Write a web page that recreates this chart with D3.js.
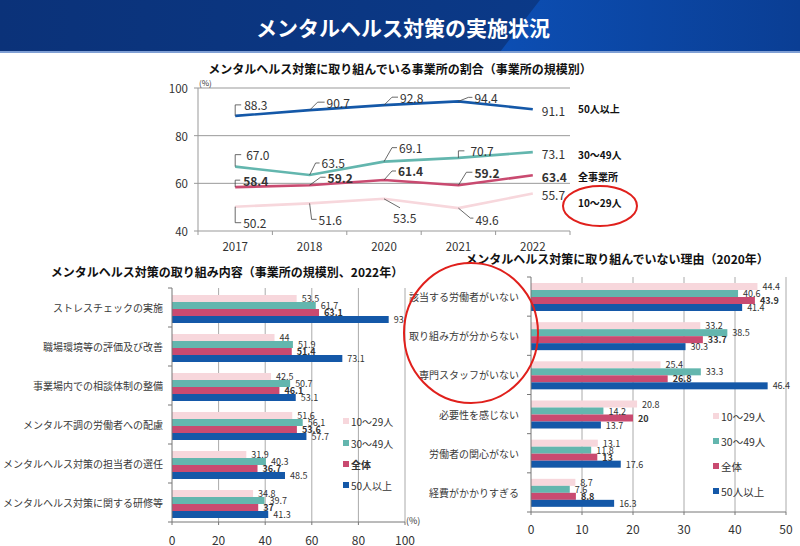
<!DOCTYPE html>
<html>
<head>
<meta charset="utf-8">
<script src="https://cdn.jsdelivr.net/npm/d3@7"></script>
<style>
  body { margin: 0; background: #fff; }
  svg { display: block; font-family: "Noto Sans CJK JP", "Noto Sans", sans-serif; }
</style>
</head>
<body>
<div id="chart"></div>
<script>
// line chart: share of workplaces doing mental health measures
var years = ["2017", "2018", "2020", "2021", "2022"];
var lineNames = ["50人以上", "30～49人", "全事業所", "10～29人"];
var rateOver50 = [88.3, 90.7, 92.8, 94.4, 91.1];
var rate30to49 = [67.0, 63.5, 69.1, 70.7, 73.1];
var rateAll = [58.4, 59.2, 61.4, 59.2, 63.4];
var rate10to29 = [50.2, 51.6, 53.5, 49.6, 55.7];
var yTicks = [40, 60, 80, 100];

// bar charts
var sizeGroups = ["10～29人", "30～49人", "全体", "50人以上"];

var effortItems = ["ストレスチェックの実施", "職場環境等の評価及び改善", "事業場内での相談体制の整備",
  "メンタル不調の労働者への配慮", "メンタルヘルス対策の担当者の選任", "メンタルヘルス対策に関する研修等"];
var effort10to29 = [53.5, 44, 42.5, 51.6, 31.9, 34.8];
var effort30to49 = [61.7, 51.9, 50.7, 56.1, 40.3, 39.7];
var effortAll = [63.1, 51.4, 46.1, 53.6, 36.7, 37];
var effortOver50 = [93, 73.1, 53.1, 57.7, 48.5, 41.3];

var reasonItems = ["該当する労働者がいない", "取り組み方が分からない", "専門スタッフがいない",
  "必要性を感じない", "労働者の関心がない", "経費がかかりすぎる"];
var reason10to29 = [44.4, 33.2, 25.4, 20.8, 13.1, 8.7];
var reason30to49 = [40.6, 38.5, 33.3, 14.2, 11.8, 7.6];
var reasonAll = [43.9, 33.7, 26.8, 20, 13, 8.8];
var reasonOver50 = [41.4, 30.3, 46.4, 13.7, 17.6, 16.3];

var colors = { pink: "#f7d7dc", teal: "#63b6ae", red: "#c94a70", blue: "#1458a8" };
var textColor = "#333";

var svg = d3.select("#chart").append("svg")
  .attr("width", 800).attr("height", 546);

svg.append("rect").attr("width", 800).attr("height", 546).attr("fill", "#fff");

// ---- header band
var defs = svg.append("defs");
var g1 = defs.append("linearGradient").attr("id", "hdrL");
g1.append("stop").attr("offset", "0%").attr("stop-color", "#0b3279");
g1.append("stop").attr("offset", "100%").attr("stop-color", "#0b3d8f");
var g2 = defs.append("linearGradient").attr("id", "hdrR");
g2.append("stop").attr("offset", "0%").attr("stop-color", "#0c4eb3");
g2.append("stop").attr("offset", "100%").attr("stop-color", "#0a3e94");

svg.append("rect").attr("x", 0).attr("y", 0).attr("width", 800).attr("height", 52).attr("fill", "url(#hdrL)");
svg.append("polygon").attr("points", "540,0 800,0 800,52 500,52").attr("fill", "url(#hdrR)");
svg.append("rect").attr("x", 0).attr("y", 51).attr("width", 800).attr("height", 2).attr("fill", "#7f9fd4");
svg.append("text")
  .attr("x", 403).attr("y", 27)
  .attr("text-anchor", "middle").attr("dominant-baseline", "central")
  .attr("fill", "#fff").attr("font-size", 21).attr("font-weight", "bold")
  .text("メンタルヘルス対策の実施状況");

// ---- line chart
var lx = d3.scaleBand().domain(years).range([198, 570]);
var ly = d3.scaleLinear().domain([40, 100]).range([231, 88]);

svg.append("text").attr("x", 400).attr("y", 68)
  .attr("text-anchor", "middle").attr("dominant-baseline", "central")
  .attr("font-size", 12).attr("font-weight", "bold").attr("fill", "#111")
  .text("メンタルヘルス対策に取り組んでいる事業所の割合（事業所の規模別）");

var lineG = svg.append("g");
lineG.selectAll(".grid").data(yTicks).enter().append("line")
  .attr("x1", 194).attr("x2", 570)
  .attr("y1", function (d) { return ly(d); }).attr("y2", function (d) { return ly(d); })
  .attr("stroke", "#999").attr("stroke-width", 1);
lineG.append("line").attr("x1", 198).attr("x2", 198).attr("y1", ly(100)).attr("y2", ly(40))
  .attr("stroke", "#999");
lineG.selectAll(".ylab").data(yTicks).enter().append("text")
  .attr("x", 188).attr("y", function (d) { return ly(d); })
  .attr("text-anchor", "end").attr("dominant-baseline", "central")
  .attr("font-size", 11.5).attr("fill", textColor)
  .text(function (d) { return d; });
lineG.append("text").attr("x", 199).attr("y", 82).attr("font-size", 8).attr("fill", textColor)
  .attr("dominant-baseline", "central").text("(%)");

var bounds = years.map(function (d) { return lx(d); }).concat([570]);
lineG.selectAll(".xt").data(bounds).enter().append("line")
  .attr("x1", function (d) { return d; }).attr("x2", function (d) { return d; })
  .attr("y1", ly(40)).attr("y2", ly(40) + 4).attr("stroke", "#999");
lineG.selectAll(".xlab").data(years).enter().append("text")
  .attr("x", function (d) { return lx(d) + lx.bandwidth() / 2; }).attr("y", 246)
  .attr("text-anchor", "middle").attr("dominant-baseline", "central")
  .attr("font-size", 11.5).attr("fill", textColor)
  .text(function (d) { return d; });

// label placements: text offset from the point, leader as relative points
var lab50 = [
  { dx: 9, dy: -11, l: [[0, -11], [6, -11]] },
  { dx: 17, dy: -8, l: [[8, -8], [15, -8]] },
  { dx: 16, dy: -8, l: [[8, -8], [14, -8]] },
  { dx: 16, dy: -4, l: [[10, -4], [14, -4]] },
  { dx: 9, dy: 1, l: null }
];
var lab30 = [
  { dx: 11, dy: -12, l: [[0, -12], [6, -12]] },
  { dx: 12, dy: -12, l: [[6, -12], [10, -12]] },
  { dx: 15, dy: -14, l: [[8, -14], [13, -14]] },
  { dx: 12, dy: -7, l: [[0, -7], [6, -7]] },
  { dx: 9, dy: 1, l: null }
];
var labAll = [
  { dx: 8, dy: -7, l: [[0, -7], [5, -7]] },
  { dx: 18, dy: -8, l: [[11, -8], [16, -8]] },
  { dx: 14, dy: -9, l: [[8, -9], [12, -9]] },
  { dx: 16, dy: -13, l: [[8, -13], [14, -13]] },
  { dx: 9, dy: 1, l: null }
];
var lab10 = [
  { dx: 8, dy: 16, l: [[0, 16], [6, 16]] },
  { dx: 9, dy: 16, l: [[2, 16], [7, 16]] },
  { dx: 9, dy: 19, l: [[16, 9]] },
  { dx: 17, dy: 11, l: [[12, 10], [15, 10]] },
  { dx: 9, dy: 1, l: null }
];

var lineSeries = [
  { name: lineNames[3], values: rate10to29, color: colors.pink, labels: lab10, bold: false, ny: 202 },
  { name: lineNames[2], values: rateAll, color: colors.red, labels: labAll, bold: true, ny: 176 },
  { name: lineNames[1], values: rate30to49, color: colors.teal, labels: lab30, bold: false, ny: 154 },
  { name: lineNames[0], values: rateOver50, color: colors.blue, labels: lab50, bold: false, ny: 108 }
];

var line = d3.line()
  .x(function (d, i) { return lx(years[i]) + lx.bandwidth() / 2; })
  .y(function (d) { return ly(d); });

lineSeries.forEach(function (s) {
  lineG.append("path").datum(s.values)
    .attr("d", line).attr("fill", "none")
    .attr("stroke", s.color).attr("stroke-width", 2.6);

  s.values.forEach(function (v, i) {
    var px = lx(years[i]) + lx.bandwidth() / 2;
    var py = ly(v);
    var lb = s.labels[i];
    if (lb.l) {
      var pts = [[px, py]].concat(lb.l.map(function (p) { return [px + p[0], py + p[1]]; }));
      lineG.append("path").attr("d", d3.line()(pts))
        .attr("fill", "none").attr("stroke", "#444").attr("stroke-width", 0.8);
    }
    lineG.append("text")
      .attr("x", px + lb.dx).attr("y", py + lb.dy)
      .attr("dominant-baseline", "central")
      .attr("font-size", 12).attr("fill", textColor)
      .attr("font-weight", s.bold ? "bold" : "normal")
      .text(v.toFixed(1));
  });

  lineG.append("text")
    .attr("x", 578).attr("y", s.ny)
    .attr("dominant-baseline", "central")
    .attr("font-size", 10).attr("font-weight", "bold").attr("fill", "#111")
    .text(s.name);
});

lineG.append("ellipse").attr("cx", 600).attr("cy", 206).attr("rx", 37).attr("ry", 20)
  .attr("fill", "none").attr("stroke", "#e0201c").attr("stroke-width", 2);

// ---- grouped horizontal bar charts
function drawBars(cfg) {
  var g = svg.append("g");
  var x = d3.scaleLinear().domain([0, cfg.max]).range([cfg.x0, cfg.x1]);
  var y0 = d3.scaleBand().domain(cfg.items).range([cfg.y0, cfg.y1]);
  var y1 = d3.scaleBand().domain(sizeGroups).range([cfg.inner0, cfg.inner1]);
  var series = [
    { key: sizeGroups[0], values: cfg.s1, color: colors.pink },
    { key: sizeGroups[1], values: cfg.s2, color: colors.teal },
    { key: sizeGroups[2], values: cfg.s3, color: colors.red, bold: true },
    { key: sizeGroups[3], values: cfg.s4, color: colors.blue }
  ];

  g.append("text").attr("x", cfg.titleX).attr("y", cfg.titleY)
    .attr("text-anchor", "middle").attr("dominant-baseline", "central")
    .attr("font-size", 12).attr("font-weight", "bold").attr("fill", "#111")
    .text(cfg.title);

  var ticks = d3.range(0, cfg.max + 1, cfg.step);
  g.selectAll(".grid").data(ticks.slice(1)).enter().append("line")
    .attr("x1", function (d) { return x(d); }).attr("x2", function (d) { return x(d); })
    .attr("y1", cfg.y0).attr("y2", cfg.y1)
    .attr("stroke", "#aaa");

  var groups = g.selectAll(".grp").data(cfg.items).enter().append("g")
    .attr("transform", function (d) { return "translate(0," + y0(d) + ")"; });

  series.forEach(function (s) {
    groups.append("rect")
      .attr("x", x(0))
      .attr("y", y1(s.key))
      .attr("width", function (d, i) { return x(s.values[i]) - x(0); })
      .attr("height", y1.bandwidth())
      .attr("fill", s.color);
  });
  series.forEach(function (s) {
    groups.append("text")
      .attr("x", function (d, i) { return x(s.values[i]) + 5; })
      .attr("y", y1(s.key) + y1.bandwidth() / 2)
      .attr("dominant-baseline", "central")
      .attr("font-size", 9).attr("fill", textColor)
      .attr("font-weight", s.bold ? "bold" : "normal")
      .text(function (d, i) { return s.values[i]; });
  });

  groups.append("text")
    .attr("x", cfg.labelX).attr("y", y0.bandwidth() / 2)
    .attr("text-anchor", "end").attr("dominant-baseline", "central")
    .attr("font-size", cfg.catSize).attr("fill", "#3a3a3a")
    .text(function (d) { return d; });

  // axes
  g.append("line").attr("x1", x(0)).attr("x2", x(0)).attr("y1", cfg.y0).attr("y2", cfg.y1)
    .attr("stroke", "#777");
  g.append("line").attr("x1", x(0)).attr("x2", x(cfg.max)).attr("y1", cfg.y1).attr("y2", cfg.y1)
    .attr("stroke", "#777");
  var yb = cfg.items.map(function (d) { return y0(d); }).concat([cfg.y1]);
  g.selectAll(".yt").data(yb).enter().append("line")
    .attr("x1", x(0) - 4).attr("x2", x(0))
    .attr("y1", function (d) { return d; }).attr("y2", function (d) { return d; })
    .attr("stroke", "#777");
  g.selectAll(".xt").data(ticks).enter().append("line")
    .attr("x1", function (d) { return x(d); }).attr("x2", function (d) { return x(d); })
    .attr("y1", cfg.y1).attr("y2", cfg.y1 + 3)
    .attr("stroke", "#777");
  g.selectAll(".xl").data(ticks).enter().append("text")
    .attr("x", function (d) { return x(d); }).attr("y", cfg.tickY)
    .attr("text-anchor", "middle").attr("dominant-baseline", "central")
    .attr("font-size", 12).attr("fill", textColor)
    .text(function (d) { return d; });

  // legend
  series.forEach(function (s, i) {
    var ly2 = cfg.legY[i];
    g.append("rect").attr("x", cfg.legX).attr("y", ly2 - 3).attr("width", 6).attr("height", 6)
      .attr("fill", s.color);
    g.append("text").attr("x", cfg.legX + 8).attr("y", ly2)
      .attr("dominant-baseline", "central")
      .attr("font-size", cfg.legSize).attr("fill", textColor)
      .attr("font-weight", s.bold && cfg.legBold ? "bold" : "normal")
      .text(s.key);
  });
  return g;
}

var left = drawBars({
  title: "メンタルヘルス対策の取り組み内容（事業所の規模別、2022年）", titleX: 227, titleY: 271,
  items: effortItems, s1: effort10to29, s2: effort30to49, s3: effortAll, s4: effortOver50,
  max: 100, step: 20, x0: 172, x1: 405, y0: 288, y1: 522, inner0: 7, inner1: 35,
  labelX: 163, catSize: 10, tickY: 539,
  legX: 343, legY: [421, 443, 464, 485], legSize: 10, legBold: true
});
left.append("text").attr("x", 406).attr("y", 520).attr("font-size", 9).attr("fill", textColor)
  .attr("dominant-baseline", "central").text("(%)");

var right = drawBars({
  title: "メンタルヘルス対策に取り組んでいない理由（2020年）", titleX: 617, titleY: 258,
  items: reasonItems, s1: reason10to29, s2: reason30to49, s3: reasonAll, s4: reasonOver50,
  max: 50, step: 10, x0: 531, x1: 786, y0: 277, y1: 512, inner0: 6, inner1: 34,
  labelX: 519, catSize: 10, tickY: 528,
  legX: 713, legY: [416, 441, 466, 491], legSize: 10.5, legBold: false
});
right.append("ellipse").attr("cx", 471).attr("cy", 333).attr("rx", 67).attr("ry", 70)
  .attr("fill", "none").attr("stroke", "#e0201c").attr("stroke-width", 2);
</script>
</body>
</html>
